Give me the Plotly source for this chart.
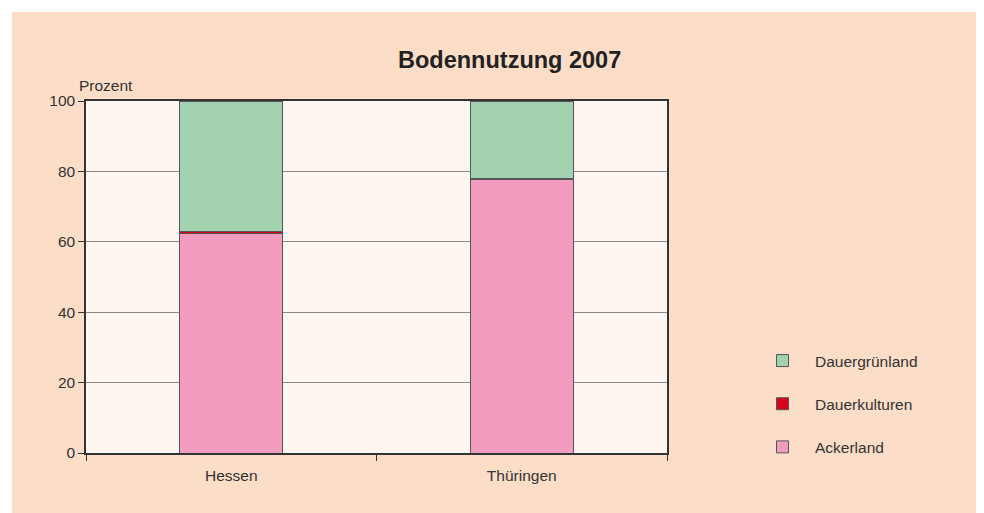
import plotly.graph_objects as go

categories = ["Hessen", "Thüringen"]
ackerland = [62.5, 77.6]
dauerkulturen = [0.5, 0.3]
dauergruenland = [37.0, 22.1]
y_ticks = [0, 20, 40, 60, 80, 100]

OFF = 8  # page body margin
W, H = 984, 513
L = 86 - OFF
T = 101 - OFF
R = W - (667 - OFF)
B = H - (453 - OFF)
pw, ph = W - L - R, H - T - B

def px_x(p):
    return (p - OFF - L) / pw

def px_y(p):
    return (H - B - (p - OFF)) / ph

font = "Liberation Sans, Arial, sans-serif"
fig = go.Figure()
series = [
    ("Ackerland", ackerland, "#F29CC0", 3),
    ("Dauerkulturen", dauerkulturen, "#D9001E", 2),
    ("Dauergrünland", dauergruenland, "#A2D2B0", 1),
]
for name, vals, col, rank in series:
    fig.add_trace(go.Bar(
        x=categories, y=vals, name=name, legendgroup=name, legendrank=rank,
        marker=dict(color=col, line=dict(color="#555555", width=1)),
        width=0.355,
    ))

orange = "#FCDDC7"
fig.update_layout(
    width=W, height=H,
    barmode="stack",
    margin=dict(l=L, r=R, t=T, b=B),
    paper_bgcolor=orange,
    plot_bgcolor="#FEF6F0",
    font=dict(family=font, size=15.5, color="#333333"),
    showlegend=True,
    legend=dict(
        x=px_x(750), y=px_y(344), xanchor="left", yanchor="top",
        traceorder="grouped", tracegroupgap=20, itemwidth=55,
        font=dict(size=15.5, color="#333333"),
        bgcolor="rgba(0,0,0,0)",
    ),
    shapes=[
        dict(type="rect", xref="paper", yref="paper",
             x0=px_x(0), x1=px_x(1000), y0=px_y(12), y1=px_y(-20),
             fillcolor="white", line=dict(width=0), layer="below"),
        dict(type="rect", xref="paper", yref="paper",
             x0=px_x(-20), x1=px_x(12), y0=px_y(530), y1=px_y(-20),
             fillcolor="white", line=dict(width=0), layer="below"),
    ],
    annotations=[
        dict(text="<b>Bodennutzung 2007</b>", xref="paper", yref="paper",
             x=px_x(509), y=px_y(60), xanchor="center", yanchor="middle",
             showarrow=False, font=dict(size=23.5, color="#222222", family=font)),
        dict(text="Prozent", xref="paper", yref="paper",
             x=px_x(77), y=px_y(86), xanchor="left", yanchor="middle",
             showarrow=False, font=dict(size=15.5, color="#333333", family=font)),
    ],
)
fig.update_xaxes(
    type="category", tickson="boundaries", ticks="outside", ticklen=6,
    tickcolor="#333333", showline=True, linecolor="#333333", linewidth=1.5,
    mirror=True, showgrid=False, tickfont=dict(size=15.5), ticklabelstandoff=8,
)
fig.update_yaxes(
    range=[0, 100], tickvals=y_ticks, ticks="outside", ticklen=6,
    tickcolor="#333333", showline=True, linecolor="#333333", linewidth=1.5,
    mirror=True, showgrid=True, gridcolor="#8a8a8a", gridwidth=1,
    zeroline=False, tickfont=dict(size=15.5),
)
fig.write_html("out.html")
